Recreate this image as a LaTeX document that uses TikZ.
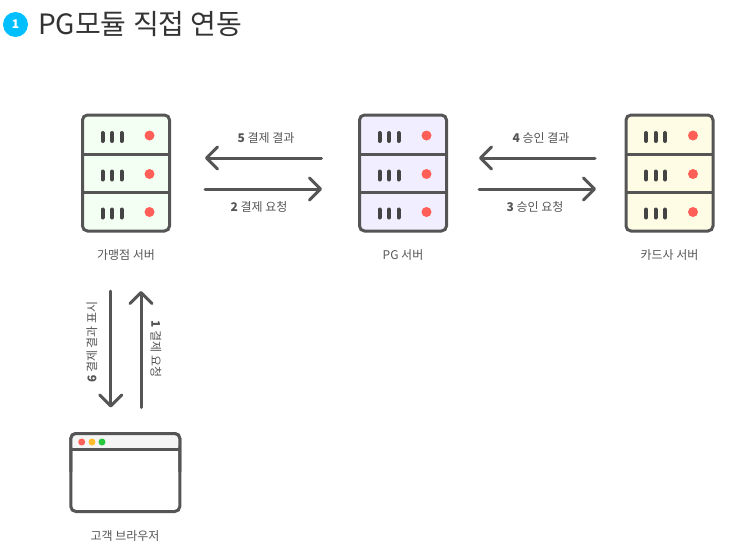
\documentclass[tikz,border=0pt]{standalone}
\usepackage{fontspec}
\setmainfont{Noto Sans CJK KR}
\usetikzlibrary{arrows.meta}

\definecolor{edgegray}{HTML}{555555}
\definecolor{titledark}{HTML}{333333}
\definecolor{badgeblue}{HTML}{00BFFF}
\definecolor{ledred}{HTML}{FF5F56}
\definecolor{ledyellow}{HTML}{FFBD2E}
\definecolor{ledgreen}{HTML}{27C93F}
\definecolor{shopfill}{HTML}{F4FFF4}
\definecolor{pgfill}{HTML}{F1EFFF}
\definecolor{cardfill}{HTML}{FFFCE6}

\tikzset{
    frame/.style={draw=edgegray, line width=3pt, rounded corners=5pt, inner sep=0pt, outer sep=0pt},
    flow/.style={draw=edgegray, line width=3pt, line cap=round, -{Straight Barb[length=11pt,width=22pt,line width=3pt,round]}},
    caption/.style={text=edgegray, font=\fontsize{12}{14}\selectfont, inner sep=0pt},
    steptext/.style={text=edgegray, font=\fontsize{12}{14}\selectfont, inner sep=0pt},
}

% name, centre x, fill colour, caption
\newcommand{\serverrack}[4]{
    \node[frame, fill=#3, minimum width=87pt, minimum height=116pt] (#1) at (#2,173) {};
    \draw[edgegray, line width=3pt] (#2-43.5,154) -- (#2+43.5,154);
    \draw[edgegray, line width=3pt] (#2-43.5,192.5) -- (#2+43.5,192.5);
    \foreach \rowy in {137,175.5,213.5} {
        \foreach \barx in {-23.5,-14,-4.5} {
            \draw[edgegray!80!black, line width=4pt, line cap=round] (#2+\barx,\rowy-4) -- (#2+\barx,\rowy+4);
        }
        \fill[ledred] (#2+23.5,\rowy-1.5) circle[radius=5];
    }
    \node[caption] (#1label) at (#2,255) {#4};
}

\begin{document}
\begin{tikzpicture}[x=1pt,y=-1pt]
    \useasboundingbox (0,0) rectangle (731,557);

    % Heading
    \fill[badgeblue] (15.5,24.5) circle[radius=12.5];
    \node[text=white, font=\fontsize{12}{14}\selectfont\bfseries, inner sep=0pt] (badge) at (15.5,24.5) {1};
    \node[text=titledark, font=\fontsize{28}{32}\selectfont, anchor=west, inner sep=0pt] (heading) at (38,24) {PG모듈 직접 연동};

    % Servers
    \serverrack{shop}{126}{shopfill}{가맹점 서버}
    \serverrack{pg}{403}{pgfill}{PG 서버}
    \serverrack{card}{669.5}{cardfill}{카드사 서버}

    % Browser window
    \node[frame, fill=white, minimum width=109pt, minimum height=78pt] (browser) at (125.3,472.5) {};
    \fill[black!4, rounded corners=4pt] (71.5,434.5) rectangle (179,449);
    \draw[edgegray, line width=3pt] (70.8,449) -- (179.8,449);
    \draw[edgegray, line width=3pt, rounded corners=5pt] (70.8,472) |- (179.8,433.5) -- (179.8,472);
    \fill[ledred] (81.7,442) circle[radius=3.5];
    \fill[ledyellow] (92,442) circle[radius=3.5];
    \fill[ledgreen] (102,442) circle[radius=3.5];
    \node[caption] (browserlabel) at (125,536) {고객 브라우저};

    % Horizontal flows
    \draw[flow] ([shift={(-38,-15)}]pg.west) -- ([shift={(35.5,-15)}]shop.east);
    \draw[flow] ([shift={(35.5,16)}]shop.east) -- ([shift={(-37.5,16)}]pg.west);
    \draw[flow] ([shift={(-31,-15)}]card.west) -- ([shift={(32.5,-15)}]pg.east);
    \draw[flow] ([shift={(32.5,16)}]pg.east) -- ([shift={(-30,16)}]card.west);

    % Vertical flows
    \draw[flow] ([shift={(-15.3,60)}]shop.south) -- ([shift={(-14.6,-26)}]browser.north);
    \draw[flow] ([shift={(15.7,-26)}]browser.north) -- ([shift={(15,60)}]shop.south);

    % Step labels
    \node[steptext] (step5) at (266,138) {\textbf{5} 결제 결과};
    \node[steptext] (step2) at (259,207) {\textbf{2} 결제 요청};
    \node[steptext] (step4) at (541,138) {\textbf{4} 승인 결과};
    \node[steptext] (step3) at (535,207) {\textbf{3} 승인 요청};
    \node[steptext, rotate=90] (step6) at (92,342) {\textbf{6} 결제 결과 표시};
    \node[steptext, rotate=-90] (step1) at (156,349) {\textbf{1} 결제 요청};
\end{tikzpicture}
\end{document}
